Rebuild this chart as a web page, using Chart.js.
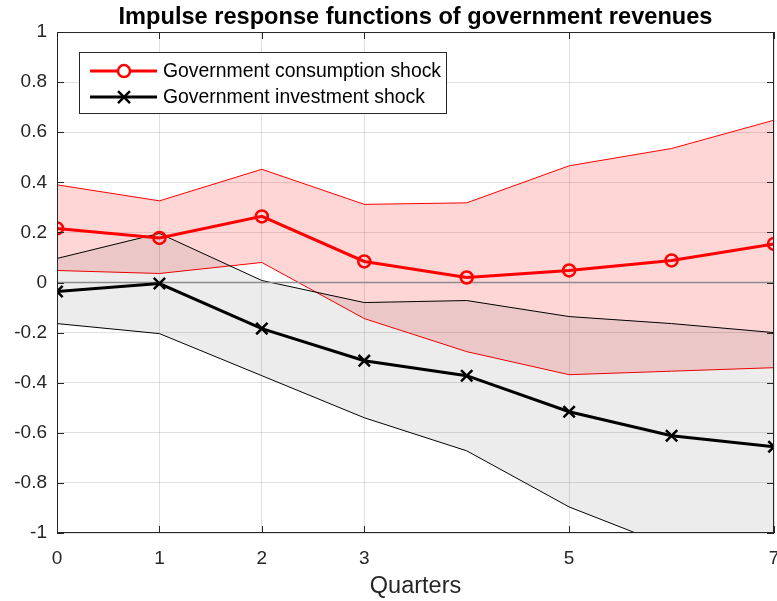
<!DOCTYPE html>
<html>
<head>
<meta charset="utf-8">
<script src="https://cdn.jsdelivr.net/npm/chart.js@4.4.1/dist/chart.umd.min.js"></script>
<style>
html, body { margin: 0; padding: 0; background: #fff; }
#wrap { width: 777px; height: 601px; position: relative; }
</style>
</head>
<body>
<div id="wrap"><canvas id="irfChart"></canvas></div>
<script>
// horizon (quarters) and the ticks actually labelled on the axis
const quarters = [0, 1, 2, 3, 4, 5, 6, 7];
const xTickValues = [0, 1, 2, 3, 5, 7];

// government consumption shock: median and band
const consMean  = [0.216, 0.178, 0.264, 0.084, 0.020, 0.048, 0.088, 0.154];
const consUpper = [0.390, 0.326, 0.452, 0.312, 0.318, 0.466, 0.535, 0.648];
const consLower = [0.048, 0.036, 0.080, -0.144, -0.276, -0.368, -0.354, -0.340];

// government investment shock: median and band
const invMean  = [-0.036, -0.004, -0.184, -0.312, -0.372, -0.516, -0.612, -0.656];
const invUpper = [0.096, 0.196, 0.008, -0.080, -0.072, -0.136, -0.164, -0.200];
const invLower = [-0.164, -0.204, -0.372, -0.540, -0.672, -0.896, -1.056, -1.200];

const zeroLevel = 0;
const seriesNames = ['Government consumption shock', 'Government investment shock'];

const FONT = '"Liberation Sans", Arial, Helvetica, sans-serif';
const TXT = '#262626';

const pts = arr => arr.map((v, i) => ({ x: quarters[i], y: v }));

// frame around the axes + inward tick marks, matlab style
const axesBox = {
    id: 'axesBox',
    afterDatasetsDraw(chart) {
        const { ctx, chartArea: a, scales } = chart;
        ctx.save();
        ctx.strokeStyle = TXT;
        ctx.lineWidth = 1;
        ctx.strokeRect(a.left + 0.5, a.top + 0.5, a.right - a.left - 1, a.bottom - a.top - 1);
        ctx.beginPath();
        scales.x.ticks.forEach(t => {
            const px = Math.round(scales.x.getPixelForValue(t.value)) + 0.5;
            ctx.moveTo(px, a.bottom); ctx.lineTo(px, a.bottom - 7);
            ctx.moveTo(px, a.top); ctx.lineTo(px, a.top + 7);
        });
        scales.y.ticks.forEach(t => {
            const py = Math.round(scales.y.getPixelForValue(t.value)) + 0.5;
            ctx.moveTo(a.left, py); ctx.lineTo(a.left + 7, py);
            ctx.moveTo(a.right, py); ctx.lineTo(a.right - 7, py);
        });
        ctx.stroke();
        ctx.restore();
    }
};

// legend box inside the plot, upper left
const innerLegend = {
    id: 'innerLegend',
    afterDraw(chart) {
        const { ctx, chartArea: a } = chart;
        const left = a.left + 22, top = a.top + 20, w = 367, h = 61;
        ctx.save();
        ctx.fillStyle = '#fff';
        ctx.fillRect(left, top, w, h);
        ctx.strokeStyle = TXT;
        ctx.lineWidth = 1;
        ctx.strokeRect(left + 0.5, top + 0.5, w, h);
        const styles = [
            { color: '#ff0000', marker: 'circle' },
            { color: '#000000', marker: 'cross' }
        ];
        seriesNames.forEach((name, i) => {
            const y = top + 19 + i * 26;
            const st = styles[i];
            ctx.strokeStyle = st.color;
            ctx.lineWidth = 3;
            ctx.beginPath();
            ctx.moveTo(left + 11, y); ctx.lineTo(left + 78, y);
            ctx.stroke();
            const mx = left + 45;
            ctx.lineWidth = 2.5;
            ctx.beginPath();
            if (st.marker === 'circle') {
                ctx.fillStyle = '#fff';
                ctx.arc(mx, y, 6, 0, Math.PI * 2);
                ctx.fill();
            } else {
                ctx.moveTo(mx - 6, y - 6); ctx.lineTo(mx + 6, y + 6);
                ctx.moveTo(mx + 6, y - 6); ctx.lineTo(mx - 6, y + 6);
            }
            ctx.stroke();
            ctx.fillStyle = '#000';
            ctx.font = '19.4px ' + FONT;
            ctx.textBaseline = 'middle';
            ctx.fillText(name, left + 84, y + 1);
        });
        ctx.restore();
    }
};

const bandLine = (data, color, fillColor, order) => ({
    data: pts(data),
    borderColor: color,
    borderWidth: 1,
    pointRadius: 0,
    backgroundColor: fillColor,
    fill: fillColor ? '+1' : false,
    order
});

new Chart(document.getElementById('irfChart'), {
    type: 'line',
    data: {
        datasets: [
            {
                label: seriesNames[0],
                data: pts(consMean),
                borderColor: '#ff0000',
                borderWidth: 3,
                pointStyle: 'circle',
                pointRadius: 6,
                pointBorderWidth: 2.5,
                pointBackgroundColor: 'rgba(0,0,0,0)',
                pointBorderColor: '#ff0000',
                order: 0
            },
            {
                label: seriesNames[1],
                data: pts(invMean),
                borderColor: '#000000',
                borderWidth: 3,
                pointStyle: 'crossRot',
                pointRadius: 8,
                pointBorderWidth: 2.5,
                pointBorderColor: '#000000',
                order: 0
            },
            {
                data: pts(quarters.map(() => zeroLevel)),
                borderColor: '#8c8c8c',
                borderWidth: 1.5,
                pointRadius: 0,
                order: 1
            },
            bandLine(invUpper, '#000000', 'rgba(0,0,0,0.075)', 2),
            bandLine(invLower, '#000000', null, 2),
            bandLine(consUpper, '#ff0000', 'rgba(255,0,0,0.16)', 3),
            bandLine(consLower, '#ff0000', null, 3)
        ]
    },
    options: {
        responsive: true,
        maintainAspectRatio: false,
        animation: false,
        layout: { autoPadding: false, padding: { left: 0, right: 3, top: 0, bottom: 0 } },
        plugins: {
            legend: { display: false },
            tooltip: { enabled: false },
            title: {
                display: true,
                fullSize: false,
                text: 'Impulse response functions of government revenues',
                color: '#000',
                font: { family: FONT, size: 23.6, weight: 'bold' },
                padding: { top: 3, bottom: 0.7 }
            }
        },
        scales: {
            x: {
                type: 'linear',
                min: 0,
                max: 7,
                afterBuildTicks: s => { s.ticks = xTickValues.map(v => ({ value: v })); },
                afterFit: s => { s.height = 68; s.paddingLeft = 0; s.paddingRight = 0; },
                grid: { color: 'rgba(0,0,0,0.12)', drawTicks: false },
                border: { display: false },
                ticks: { color: TXT, padding: 14, font: { family: FONT, size: 19 } },
                title: {
                    display: true,
                    text: 'Quarters',
                    color: TXT,
                    font: { family: FONT, size: 23.5 },
                    padding: { top: 2, bottom: 0 }
                }
            },
            y: {
                min: -1,
                max: 1,
                afterFit: s => { s.width = 57; s.paddingTop = 0; s.paddingBottom = 0; },
                grid: { color: 'rgba(0,0,0,0.12)', drawTicks: false },
                border: { display: false },
                ticks: {
                    stepSize: 0.2,
                    color: TXT,
                    padding: 10,
                    font: { family: FONT, size: 19 },
                    callback: v => String(+v.toFixed(1))
                }
            }
        }
    },
    plugins: [axesBox, innerLegend]
});
</script>
</body>
</html>
